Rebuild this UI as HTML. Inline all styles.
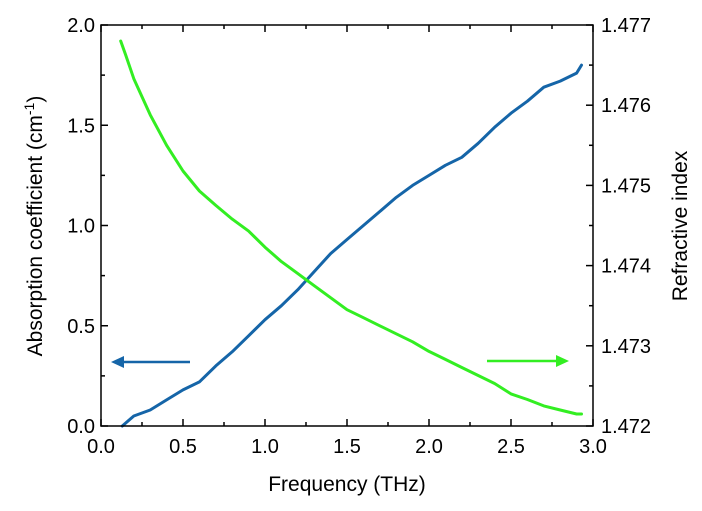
<!DOCTYPE html>
<html><head><meta charset="utf-8"><style>
body{margin:0;background:#fff;}
svg{display:block;font-family:"Liberation Sans",Arial,sans-serif;}
</style></head><body>
<svg id="chart" width="702" height="511"></svg>
<script>
const xTicks=[0.0,0.5,1.0,1.5,2.0,2.5,3.0];
const yTicks=[0.0,0.5,1.0,1.5,2.0];
const y2Ticks=[1.472,1.473,1.474,1.475,1.476,1.477];
const absFreq=[0.13,0.2,0.3,0.4,0.5,0.6,0.7,0.8,0.9,1.0,1.1,1.2,1.3,1.4,1.5,1.6,1.7,1.8,1.9,2.0,2.1,2.2,2.3,2.4,2.5,2.6,2.7,2.8,2.9,2.93];
const absVals=[0,0.05,0.08,0.13,0.18,0.22,0.3,0.37,0.45,0.53,0.6,0.68,0.77,0.86,0.93,1.0,1.07,1.14,1.2,1.25,1.3,1.34,1.41,1.49,1.56,1.62,1.69,1.72,1.76,1.8];
const riFreq=[0.12,0.15,0.2,0.3,0.4,0.5,0.6,0.7,0.8,0.9,1.0,1.1,1.2,1.3,1.4,1.5,1.6,1.7,1.8,1.9,2.0,2.1,2.2,2.3,2.4,2.5,2.6,2.7,2.8,2.9,2.93];
const riVals=[1.4768,1.47663,1.47633,1.47588,1.4755,1.47518,1.47493,1.47475,1.47458,1.47443,1.47423,1.47405,1.4739,1.47375,1.4736,1.47345,1.47335,1.47325,1.47315,1.47305,1.47293,1.47283,1.47273,1.47263,1.47253,1.4724,1.47233,1.47225,1.4722,1.47215,1.47215];

const L=101,R=593,T=25,B=426;
const sx=v=>L+(v-0)/3*(R-L);
const sy=v=>B-v/2*(B-T);
const sy2=v=>B-(v-1.472)/0.005*(B-T);
const svg=document.getElementById('chart');
const NS='http://www.w3.org/2000/svg';
function mk(tag,at,parent){const e=document.createElementNS(NS,tag);for(const k in at)e.setAttribute(k,at[k]);(parent||svg).appendChild(e);return e;}

let d=absFreq.map((f,i)=>(i?'L':'M')+sx(f).toFixed(1)+','+sy(absVals[i]).toFixed(1)).join(' ');
const p1=mk('path',{d:d,fill:'none',stroke:'#1565a8','stroke-width':3,'stroke-linejoin':'round','stroke-linecap':'round'});


d=riFreq.map((f,i)=>(i?'L':'M')+sx(f).toFixed(1)+','+sy2(riVals[i]).toFixed(1)).join(' ');
const p2=mk('path',{d:d,fill:'none',stroke:'#33ee22','stroke-width':3,'stroke-linejoin':'round','stroke-linecap':'round'});



const fr=mk('rect',{x:L,y:T,width:R-L,height:B-T,fill:'none',stroke:'#000','stroke-width':1.5});



xTicks.forEach((v,i)=>{
  const x=sx(v);
  mk('line',{x1:x,x2:x,y1:B,y2:B-7,stroke:'#000','stroke-width':1.5});
  mk('line',{x1:x,x2:x,y1:T,y2:T+7,stroke:'#000','stroke-width':1.5});
  if(i<xTicks.length-1){const xm=sx(v+0.25);
    mk('line',{x1:xm,x2:xm,y1:B,y2:B-4,stroke:'#000','stroke-width':1.5});
    mk('line',{x1:xm,x2:xm,y1:T,y2:T+4,stroke:'#000','stroke-width':1.5});}
  const t=mk('text',{x:x,y:B+27,'text-anchor':'middle','font-size':20});
  t.textContent=v.toFixed(1);
  
  
});
yTicks.forEach((v,i)=>{
  const y=sy(v);
  mk('line',{x1:L,x2:L+7,y1:y,y2:y,stroke:'#000','stroke-width':1.5});
  if(i<yTicks.length-1){const ym=sy(v+0.25);mk('line',{x1:L,x2:L+4,y1:ym,y2:ym,stroke:'#000','stroke-width':1.5});}
  const t=mk('text',{x:L-6,y:y+7,'text-anchor':'end','font-size':20});
  t.textContent=v.toFixed(1);
  
  
});
y2Ticks.forEach((v,i)=>{
  const y=sy2(v);
  mk('line',{x1:R,x2:R-7,y1:y,y2:y,stroke:'#000','stroke-width':1.5});
  if(i<y2Ticks.length-1){const ym=sy2(v+0.0005);mk('line',{x1:R,x2:R-4,y1:ym,y2:ym,stroke:'#000','stroke-width':1.5});}
  const t=mk('text',{x:R+8,y:y+7,'text-anchor':'start','font-size':20});
  t.textContent=v.toFixed(3);
  
  
});

let t=mk('text',{x:(L+R)/2,y:491,'text-anchor':'middle','font-size':21});
t.textContent='Frequency (THz)';


t=mk('text',{transform:'translate(42,226) rotate(-90)','text-anchor':'middle','font-size':21});
t.innerHTML='Absorption coefficient (cm<tspan dy="-8" font-size="14">-1</tspan><tspan dy="8">)</tspan>';


t=mk('text',{transform:'translate(687,226) rotate(-90)','text-anchor':'middle','font-size':21});
t.textContent='Refractive index';



let a=mk('g',{});


mk('line',{x1:190,x2:122,y1:362,y2:362,stroke:'#1565a8','stroke-width':2.5},a);
mk('polygon',{points:'111,362 124,356 124,368',fill:'#1565a8'},a);
a=mk('g',{});


mk('line',{x1:487,x2:558,y1:361,y2:361,stroke:'#33ee22','stroke-width':2.5},a);
mk('polygon',{points:'569,361 556,355 556,367',fill:'#33ee22'},a);
</script>
</body></html>
